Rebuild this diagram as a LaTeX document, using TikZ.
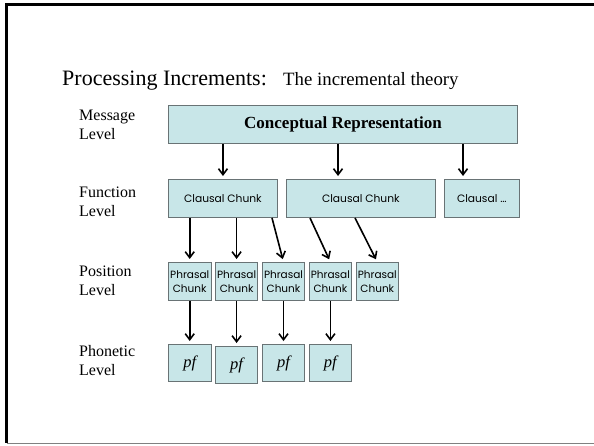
\documentclass[tikz,border=0pt]{standalone}
\usepackage{fontspec}
\setmainfont{Liberation Serif}
\newfontfamily\chunkfont{Poppins}
\usetikzlibrary{arrows.meta, positioning}
\definecolor{chunkfill}{RGB}{200,230,232}
\definecolor{chunkline}{RGB}{105,115,117}

\begin{document}
\begin{tikzpicture}[x=1pt, y=-1pt, node distance=3.5pt,
  box/.style={draw=chunkline, fill=chunkfill, line width=0.9pt, inner sep=0pt, minimum height=38pt, align=center},
  clause/.style={box, font=\chunkfont\fontsize{10.7}{12}\selectfont},
  phrase/.style={box, minimum width=42.5pt, font=\chunkfont\fontsize{10.5}{14}\selectfont},
  sound/.style={box, minimum width=42.5pt, minimum height=37pt, font=\fontsize{16.5}{18}\selectfont\itshape},
  level/.style={anchor=west, align=left, inner sep=0pt, font=\fontsize{16}{19}\selectfont},
  arr/.style={-{Straight Barb[length=6pt,width=9pt]}, line width=1.6pt, shorten >=3pt}]
  \useasboundingbox (0,0) rectangle (594,445);
  % slide frame
  \draw[line width=2.5pt] (596,4.5) -- (6.5,4.5) -- (6.5,443);
  \draw[gray, line width=1pt] (6.5,443) -- (596,443);

  % title
  \node[anchor=base west, inner sep=0pt, font=\fontsize{22}{24}\selectfont] (title) at (62,85) {Processing Increments:};
  \node[anchor=base west, inner sep=0pt, font=\fontsize{18.8}{22}\selectfont] (subtitle) at (283,85) {The incremental theory};

  % level names
  \node[level] (msg) at (79,124.5) {Message\\Level};
  \node[level] (fun) at (79,201.5) {Function\\Level};
  \node[level] (pos) at (79,280.5) {Position\\Level};
  \node[level] (pho) at (79,360.5) {Phonetic\\Level};

  % message level
  \node[box, anchor=north west, minimum width=349pt, font=\bfseries\fontsize{17}{19}\selectfont] (concept) at (168,105) {Conceptual Representation};

  % function level
  \node[clause, anchor=north west, minimum width=109pt] (c1) at (168,179) {Clausal Chunk};
  \node[clause, minimum width=149pt, right=8pt of c1] (c2) {Clausal Chunk};
  \node[clause, minimum width=75pt, right=8pt of c2] (c3) {Clausal \dots};

  % position level
  \node[phrase, anchor=north west] (p1) at (168,262) {Phrasal\\Chunk};
  \node[phrase, right=of p1] (p2) {Phrasal\\Chunk};
  \node[phrase, right=of p2] (p3) {Phrasal\\Chunk};
  \node[phrase, right=of p3] (p4) {Phrasal\\Chunk};
  \node[phrase, right=of p4] (p5) {Phrasal\\Chunk};

  % phonetic level
  \node[sound, anchor=north west] (s1) at (168,344) {pf};
  \node[sound, right=of s1, yshift=-2pt] (s2) {pf};
  \node[sound, right=of s2, yshift=2pt] (s3) {pf};
  \node[sound, right=of s3] (s4) {pf};

  \draw[arr] (concept.south -| c1.north) -- (c1.north);
  \draw[arr] (concept.south -| 338,0) -- (c2.north -| 338,0);
  \draw[arr] (concept.south -| 463,0) -- (c3.north -| 463,0);

  \draw[arr] (c1.south -| p1.north) -- (p1.north);
  \draw[arr] (c1.south -| p2.north) -- (p2.north);
  \draw[arr] (c1.south -| 272,0) -- (p3.north);
  \draw[arr] (c2.south -| 310,0) -- (p4.north);
  \draw[arr] (c2.south -| 355,0) -- (p5.north);

  \foreach \i in {1,...,4}
    \draw[arr] (p\i.south) -- (s\i.north);
\end{tikzpicture}
\end{document}
